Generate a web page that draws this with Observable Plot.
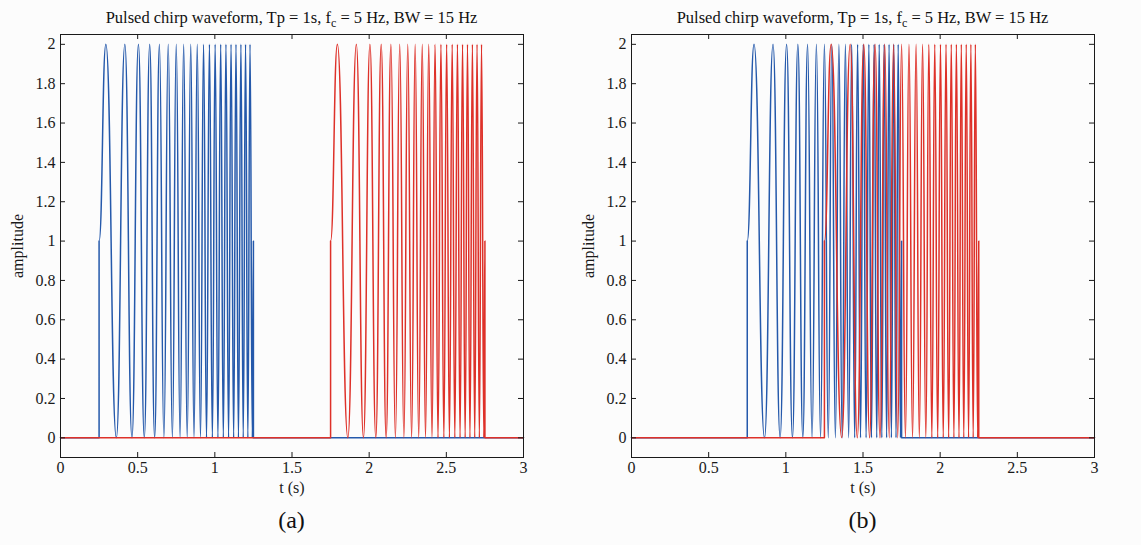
<!DOCTYPE html>
<html><head><meta charset="utf-8">
<script src="https://cdn.jsdelivr.net/npm/d3@7"></script>
<script src="https://cdn.jsdelivr.net/npm/@observablehq/plot@0.6"></script>
<style>
body{margin:0;background:#fcfcfc;}
#root{position:relative;width:1141px;height:545px;overflow:hidden;font-family:"Liberation Serif","Times New Roman",serif;color:#111;}
.panel{position:absolute;top:0;width:570px;height:545px;}
.panel svg{position:absolute;top:0;left:0;}
.title{position:absolute;top:8px;left:60px;width:463px;text-align:center;font-size:16.5px;white-space:nowrap;z-index:2;}
.title sub{font-size:12px;}
.cap{position:absolute;top:507px;left:60px;width:463px;text-align:center;font-size:24px;}
</style></head>
<body><div id="root"></div>
<script>
// ---- data ----
const titleText = ["Pulsed chirp waveform, Tp = 1s, f", "c", " = 5 Hz, BW = 15 Hz"];
const captions = ["(a)", "(b)"];
const xTicks = [0, 0.5, 1, 1.5, 2, 2.5, 3];
const yTicks = [0, 0.2, 0.4, 0.6, 0.8, 1, 1.2, 1.4, 1.6, 1.8, 2];
// time offsets (s) of pulse start, successive extrema and pulse end, within one 1 s pulse
const chirpOffsets = [0, 0.044, 0.112, 0.167, 0.213, 0.255, 0.293, 0.328, 0.360, 0.391, 0.420,
  0.448, 0.475, 0.500, 0.525, 0.548, 0.571, 0.594, 0.615, 0.636, 0.657,
  0.677, 0.696, 0.715, 0.734, 0.752, 0.770, 0.788, 0.805, 0.822, 0.839,
  0.855, 0.872, 0.887, 0.903, 0.919, 0.934, 0.949, 0.964, 0.978, 0.993, 1.0];
// amplitude at those instants
const chirpLevels = [1, 2, 0, 2, 0, 2, 0, 2, 0, 2, 0,
  2, 0, 2, 0, 2, 0, 2, 0, 2, 0,
  2, 0, 2, 0, 2, 0, 2, 0, 2, 0,
  2, 0, 2, 0, 2, 0, 2, 0, 2, 0, 1];
const pulseWidth = 1;
const tStart = 0, tEnd = 3;
const blueStarts = [0.25, 0.75];   // panel (a), (b)
const redStarts = [1.75, 1.25];

const BLUE = "#2559ab", RED = "#de3129", INK = "#1a1a1a";

function pulse(s) {
  const pts = [{t: tStart, v: 0}, {t: s, v: 0}];
  chirpOffsets.forEach((o, i) => pts.push({t: s + o, v: chirpLevels[i]}));
  pts.push({t: s + pulseWidth, v: 0}, {t: tEnd, v: 0});
  return pts;
}
const fmt = d3.format("~g");
const W = 570, H = 500, ML = 60, MR = 47, MT = 34, MB = 43;
const FW = W - ML - MR, FH = H - MT - MB, TK = 5;

const root = document.getElementById("root");
[0, 1].forEach(p => {
  const panel = document.createElement("div");
  panel.className = "panel";
  panel.style.left = (p * 571) + "px";
  const chart = Plot.plot({
    width: W, height: H,
    marginLeft: ML, marginRight: MR, marginTop: MT, marginBottom: MB,
    style: {background: "transparent", fontFamily: "'Liberation Serif', serif", fontSize: "16px", color: INK},
    x: {domain: [tStart, tEnd]},
    y: {domain: [-0.1, 2.05]},
    marks: [
      Plot.line(pulse(blueStarts[p]), {x: "t", y: "v", curve: "bump-x", stroke: BLUE, strokeWidth: 1.5}),
      Plot.line(pulse(redStarts[p]), {x: "t", y: "v", curve: "bump-x", stroke: RED, strokeWidth: 1.5}),
      Plot.frame({stroke: INK, strokeWidth: 1}),
      Plot.tickX(xTicks, {x: d => d, insetTop: FH - TK, stroke: INK}),
      Plot.tickX(xTicks, {x: d => d, insetBottom: FH - TK, stroke: INK}),
      Plot.tickY(yTicks, {y: d => d, insetRight: FW - TK, stroke: INK}),
      Plot.tickY(yTicks, {y: d => d, insetLeft: FW - TK, stroke: INK}),
      Plot.axisX(xTicks, {tickSize: 0, tickPadding: 4, tickFormat: fmt, label: "t (s)", labelAnchor: "center", labelArrow: "none", labelOffset: 35}),
      Plot.axisY(yTicks, {tickSize: 0, tickPadding: 5, tickFormat: fmt, label: "amplitude", labelAnchor: "center", labelArrow: "none", labelOffset: 49})
    ]
  });
  panel.appendChild(chart);
  const t = document.createElement("div");
  t.className = "title";
  t.innerHTML = titleText[0] + "<sub>" + titleText[1] + "</sub>" + titleText[2];
  panel.appendChild(t);
  const c = document.createElement("div");
  c.className = "cap";
  c.textContent = captions[p];
  panel.appendChild(c);
  root.appendChild(panel);
});
</script></body></html>
